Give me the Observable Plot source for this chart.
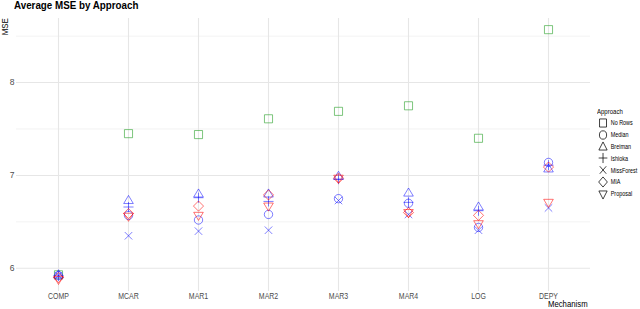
<!DOCTYPE html>
<html>
<head>
<meta charset="utf-8">
<script src="https://cdn.jsdelivr.net/npm/d3@7"></script>
<script src="https://cdn.jsdelivr.net/npm/@observablehq/plot@0.6"></script>
<style>
  body { margin: 0; background: #fff; }
  #wrap { position: relative; width: 640px; height: 309px; overflow: hidden;
          font-family: 'Liberation Sans', Arial, sans-serif; }
  #wrap svg.chart { position: absolute; left: 0; top: 0; }
  .title { position: absolute; left: 14px; top: 0px; font-size: 11px; line-height: 11px; font-weight: bold; color: #000; white-space: nowrap; transform: scaleX(0.89); transform-origin: 0 0; }
  .ytitle { position: absolute; left: 1px; top: 17px; font-size: 9px; line-height: 9px; color: #000; writing-mode: vertical-rl; transform: rotate(180deg) scaleY(0.88); white-space: nowrap; }
  .xtitle { position: absolute; left: 548px; top: 299px; font-size: 9px; line-height: 10px; color: #000; white-space: nowrap; transform: scaleX(0.86); transform-origin: 0 0; }
  .legend { position: absolute; left: 597px; top: 107px; font-size: 6.3px; color: #000; transform: scaleX(0.86); transform-origin: 0 0; }
  .legend .lt { font-size: 7px; line-height: 9px; margin-bottom: 1px; }
  .legend .row { display: flex; align-items: center; height: 11.8px; white-space: nowrap; }
  .legend svg { margin-right: 2px; }
</style>
</head>
<body>
<div id="wrap"></div>
<script>
const mechanisms = ["COMP","MCAR","MAR1","MAR2","MAR3","MAR4","LOG","DEPY"];
const approaches = ["No Rows","Median","Breiman","Ishioka","MissForest","MIA","Proposal"];
const noRows     = [5.93, 7.45, 7.44, 7.61, 7.69, 7.75, 7.40, 8.57];
const median     = [5.92, 6.57, 6.52, 6.58, 6.75, 6.70, 6.44, 7.14];
const breiman    = [5.93, 6.73, 6.80, 6.80, 6.99, 6.81, 6.66, 7.07];
const ishioka    = [5.92, 6.66, 6.76, 6.72, 6.96, 6.71, 6.62, 7.11];
const missForest = [5.92, 6.35, 6.40, 6.41, 6.73, 6.58, 6.41, 6.65];
const mia        = [5.90, 6.59, 6.67, 6.79, 6.97, 6.60, 6.57, 7.09];
const proposal   = [5.88, 6.56, 6.57, 6.67, 6.97, 6.60, 6.48, 6.71];
const yTicks = [6, 7, 8];
const yMinor = [6.5, 7.5, 8.5];
const seriesColors = ["rgba(40,160,40,0.6)", "rgba(0,0,255,0.5)", "rgba(0,0,255,0.5)", "rgba(0,0,255,0.5)", "rgba(0,0,255,0.5)", "rgba(255,0,0,0.55)", "rgba(255,0,0,0.55)"];

const series = [noRows, median, breiman, ishioka, missForest, mia, proposal];
const data = [];
approaches.forEach((a, i) => mechanisms.forEach((m, j) => data.push({approach: a, mechanism: m, mse: series[i][j]})));

// custom open symbols (ggplot shapes 0..6)
const R = s => Math.sqrt(s / Math.PI);
const sym = {
  square: {draw(c, s) { const h = R(s) * 0.92; c.moveTo(-h, -h); c.lineTo(h, -h); c.lineTo(h, h); c.lineTo(-h, h); c.closePath(); }},
  circle: {draw(c, s) { const r = R(s) * 0.95; c.moveTo(r, 0); c.arc(0, 0, r, 0, 2 * Math.PI); }},
  triUp: {draw(c, s) { const r = R(s) * 1.15; c.moveTo(0, -r); c.lineTo(r * 0.95, r * 0.6); c.lineTo(-r * 0.95, r * 0.6); c.closePath(); }},
  plus: {draw(c, s) { const r = R(s) * 1.15; c.moveTo(-r, 0); c.lineTo(r, 0); c.moveTo(0, -r); c.lineTo(0, r); }},
  times: {draw(c, s) { const r = R(s) * 0.85; c.moveTo(-r, -r); c.lineTo(r, r); c.moveTo(r, -r); c.lineTo(-r, r); }},
  diamond: {draw(c, s) { const r = R(s) * 1.15; c.moveTo(0, -r); c.lineTo(r, 0); c.lineTo(0, r); c.lineTo(-r, 0); c.closePath(); }},
  triDown: {draw(c, s) { const r = R(s) * 1.15; c.moveTo(0, r); c.lineTo(r * 0.95, -r * 0.6); c.lineTo(-r * 0.95, -r * 0.6); c.closePath(); }}
};
const symbolRange = [sym.square, sym.circle, sym.triUp, sym.plus, sym.times, sym.diamond, sym.triDown];

const chart = Plot.plot({
  width: 640,
  height: 309,
  marginLeft: 16,
  marginRight: 50,
  marginTop: 18,
  marginBottom: 18,
  style: {fontFamily: "'Liberation Sans', Arial, sans-serif", background: "#fff", overflow: "visible"},
  x: {type: "point", domain: mechanisms, padding: 0.6},
  y: {domain: [5.75, 8.69]},
  symbol: {domain: approaches, range: symbolRange},
  color: {domain: approaches, range: seriesColors},
  marks: [
    Plot.ruleY(yMinor, {stroke: "#ececec", strokeWidth: 0.7}),
    Plot.ruleY(yTicks, {stroke: "#e6e6e6", strokeWidth: 1.1}),
    Plot.ruleX(mechanisms, {x: d => d, stroke: "#e6e6e6", strokeWidth: 1.1}),
    Plot.axisY(yTicks, {tickSize: 0, tickPadding: 2, fontSize: 8.5, fill: "#4d4d4d", label: null, tickFormat: d => String(d)}),
    Plot.axisX({tickSize: 0, tickPadding: 1, fontSize: 8.5, fill: "#4d4d4d", label: null}),
    Plot.dot(data, {x: "mechanism", y: "mse", symbol: "approach", stroke: "approach", r: 4.4, strokeWidth: 1, fill: "none"})
  ]
});
chart.classList.add("chart");

// narrow the tick labels horizontally, like the reference's condensed type
d3.select(chart).selectAll("g[aria-label='x-axis tick label'] text").each(function() {
  const tr = this.getAttribute("transform") || "";
  this.setAttribute("transform", tr + " scale(0.82,1)");
});

const wrap = document.getElementById("wrap");
wrap.appendChild(chart);

const t = document.createElement("div"); t.className = "title"; t.textContent = "Average MSE by Approach"; wrap.appendChild(t);
const yt = document.createElement("div"); yt.className = "ytitle"; yt.textContent = "MSE"; wrap.appendChild(yt);
const xt = document.createElement("div"); xt.className = "xtitle"; xt.textContent = "Mechanism"; wrap.appendChild(xt);

const lg = document.createElement("div"); lg.className = "legend";
const lt = document.createElement("div"); lt.className = "lt"; lt.textContent = "Approach"; lg.appendChild(lt);
approaches.forEach((a, i) => {
  const row = document.createElement("div"); row.className = "row";
  const s = d3.create("svg").attr("width", 14).attr("height", 12);
  s.append("path").attr("transform", "translate(7,6)")
    .attr("d", d3.symbol(symbolRange[i], 4.4 * 4.4 * Math.PI)())
    .attr("fill", "none").attr("stroke", "#000").attr("stroke-width", 0.8);
  row.appendChild(s.node());
  const sp = document.createElement("span"); sp.textContent = a; row.appendChild(sp);
  lg.appendChild(row);
});
wrap.appendChild(lg);
</script>
</body>
</html>
